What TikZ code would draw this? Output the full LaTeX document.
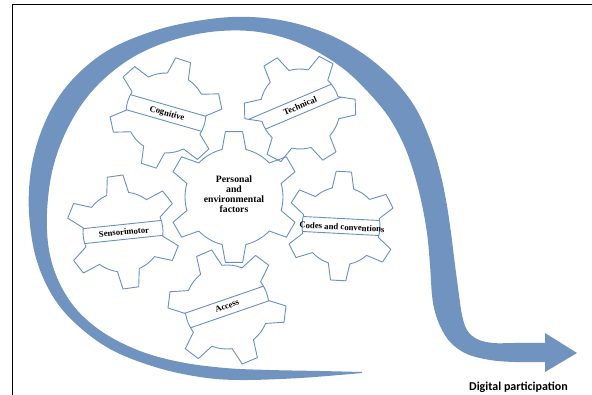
\documentclass[tikz,border=0pt]{standalone}
\usepackage{fontspec}
\setmainfont{Liberation Serif}
\newfontfamily\digfont{Carlito}
\definecolor{bandblue}{RGB}{113,147,191}
\definecolor{gearblue}{RGB}{104,142,200}
% #1 tip radius, #2 root radius, #3 rotation, #4 tip half angle, #5 base half angle
\newcommand\gearpath[5]{(#3-#4:#1pt) \foreach \k in {0,...,5}{ -- (#3+\k*60+#4:#1pt) -- (#3+\k*60+#5:#2pt) arc[start angle=#3+\k*60+#5, end angle=#3+\k*60+60-#5, radius=#2pt] -- (#3+\k*60+60-#4:#1pt)} -- cycle}
\begin{document}
\begin{tikzpicture}[x=1pt,y=1pt,
  gearline/.style={draw=gearblue, line width=0.9pt, line join=round},
  bandline/.style={draw=gearblue, line width=0.9pt},
  glabel/.style={font=\fontsize{8.7}{9}\selectfont\bfseries, inner sep=0pt},
  clabel/.style={font=\fontsize{9.7}{10}\selectfont\bfseries, inner sep=0pt, align=center}]
\useasboundingbox (0,0) rectangle (592,-395);
\draw[black, line width=0.8pt] (12,-395) -- (12,-4.5) -- (592,-4.5);

% big curved arrow
\fill[bandblue] plot[smooth, tension=0.6] coordinates {
 (362,-373) (300,-378) (240,-380) (200,-377) (155,-367) (110,-349) (75,-323)
 (52,-295) (36,-258) (29,-213) (31,-170) (41,-132) (58,-98) (82,-70) (114,-47)
 (160,-29) (210,-19) (250,-17) (290,-22) (330,-35) (365,-55) (394,-80) (415,-107)
 (429,-137) (439,-168) (446,-200) (451,-233) (455,-265) (459,-295) (462,-315)
 (467,-330) (477,-339) (493,-343) (515,-343) (545,-343)}
 -- (545,-333) -- (577,-353) -- (545,-372)
 -- plot[smooth, tension=0.6] coordinates {
 (545,-362) (515,-362) (490,-360) (467,-354) (451,-343) (441,-328) (435,-312)
 (432,-295) (430,-265) (427,-233) (421,-200) (413,-170) (403,-143) (388,-116)
 (368,-92) (345,-70) (316,-51) (285,-38) (250,-31) (210,-32) (170,-41) (135,-56)
 (105,-78) (82,-104) (64,-136) (52,-172) (47,-213) (49,-250) (59,-282) (77,-310)
 (104,-333) (140,-351) (180,-362) (225,-368) (270,-370) (320,-371) (362,-372)} -- cycle;

% central gear
\draw[gearline, shift={(234,-197)}] \gearpath{66}{49}{30}{7.5}{14};
\node[clabel] (pef) at (234,-194) {Personal\\and\\environmental\\factors};

% Cognitive
\begin{scope}[shift={(166,-113)}]
  \clip \gearpath{56}{40}{12}{8}{16};
  \draw[bandline, rotate=-16] (-90,7.8) -- (90,7.8) (-90,-7.8) -- (90,-7.8);
\end{scope}
\draw[gearline, shift={(166,-113)}] \gearpath{56}{40}{12}{8}{16};
\node[glabel, rotate=-16] (cog) at (167,-114) {Cognitive};

% Technical
\begin{scope}[shift={(300,-109)}]
  \clip \gearpath{56}{40}{2}{8}{16};
  \draw[bandline, shift={(0,3)}, rotate=23] (-90,7.8) -- (90,7.8) (-90,-7.8) -- (90,-7.8);
\end{scope}
\draw[gearline, shift={(300,-109)}] \gearpath{56}{40}{2}{8}{16};
\node[glabel, rotate=23] (tech) at (300,-106) {Technical};

% Sensorimotor
\begin{scope}[shift={(123,-232)}]
  \clip \gearpath{57}{40}{38}{8}{16};
  \draw[bandline, rotate=6] (-90,7.5) -- (90,7.5) (-90,-7.5) -- (90,-7.5);
\end{scope}
\draw[gearline, shift={(123,-232)}] \gearpath{57}{40}{38}{8}{16};
\node[glabel, rotate=5] (sens) at (124,-232) {Sensorimotor};

% Codes and conventions
\begin{scope}[shift={(341,-226)}]
  \clip \gearpath{55}{39}{27}{8}{16};
  \draw[bandline, rotate=-3] (-90,7.5) -- (90,7.5) (-90,-7.5) -- (90,-7.5);
\end{scope}
\draw[gearline, shift={(341,-226)}] \gearpath{55}{39}{27}{8}{16};
\node[glabel, rotate=-3] (codes) at (342,-227) {Codes and conventions};

% Access
\begin{scope}[shift={(227,-307)}]
  \clip \gearpath{59}{42}{53}{8}{16};
  \draw[bandline, rotate=19] (-90,7.8) -- (90,7.8) (-90,-7.8) -- (90,-7.8);
\end{scope}
\draw[gearline, shift={(227,-307)}] \gearpath{59}{42}{53}{8}{16};
\node[glabel, rotate=20] (acc) at (227,-306) {Access};

\node[font=\digfont\fontsize{12}{14}\selectfont\bfseries, anchor=base, inner sep=0pt] (dp) at (518.5,-391) {Digital participation};
\end{tikzpicture}
\end{document}
